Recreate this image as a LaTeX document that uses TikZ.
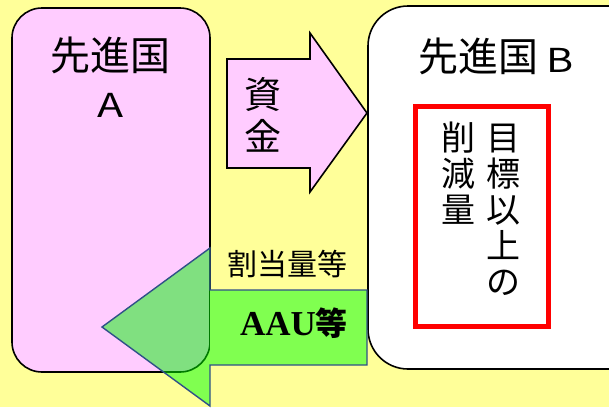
\documentclass[tikz,border=0pt]{standalone}
\usepackage{fontspec}
\setmainfont{Noto Sans CJK JP}
\newfontfamily\jpfont{Noto Sans CJK JP}
\newfontfamily\jpbold{Noto Sans CJK JP Bold}
\newfontfamily\serifb{Liberation Serif}
\definecolor{bgyellow}{HTML}{FFFF99}
\definecolor{boxpink}{HTML}{FFCCFF}
\definecolor{arrgreen}{HTML}{80FF50}
\definecolor{overgreen}{HTML}{80E080}
\definecolor{darkgr}{HTML}{007A00}
\definecolor{edgeblue}{HTML}{2F5088}
\tikzset{
  countrybox/.style={draw=black, line width=1.6pt, inner sep=0pt},
  lbl/.style={inner sep=0pt, font=\jpfont},
  title/.style={inner sep=0pt, font=\jpfont\fontsize{40}{42}\selectfont},
  latin/.style={inner sep=0pt, font=\jpfont\fontsize{33}{35}\selectfont},
  vtext/.style={inner sep=0pt, align=center, font=\jpfont\fontsize{34}{36}\selectfont},
}
\begin{document}
\begin{tikzpicture}[x=1pt,y=-1pt]
\fill[bgyellow] (0,0) rectangle (609,407);
\useasboundingbox (0,0) rectangle (609,407);
% country A
\node[countrybox, fill=boxpink, rounded corners=30pt, minimum width=198pt, minimum height=364pt] (A) at (111,190) {};
\node[title] (Atitle) at (110,55) {先進国};
\node[latin] (Aletter) at (111,105) {\scalebox{1.3}[1]{A}};
% country B
\begin{scope}
\clip (0,0) rectangle (609,407);
\node[countrybox, fill=white, rounded corners=40pt, minimum width=282pt, minimum height=363pt] (B) at (509,187.5) {};
\end{scope}
\node[title] (Btitle) at (478,56.5) {先進国};
\node[latin] (Bletter) at (560.5,60) {\scalebox{1.25}[1]{B}};
% red box
\node[draw=red, line width=5pt, fill=white, minimum width=133pt, minimum height=220pt, inner sep=0pt] (R) at (481.5,216) {};
\node[vtext] (col1) at (503,209.5) {目\\標\\以\\上\\の};
\node[vtext] (col2) at (458,173.5) {削\\減\\量};
% money arrow
\coordinate (m1) at (227,59);
\coordinate (tip1) at (367,113);
\draw[line width=1.6pt, fill=boxpink, line join=miter] (m1) -- (310,59) -- (310,33) -- (tip1) -- (310,192) -- (310,168) -- (227,168) -- cycle;
\node[vtext, font=\jpfont\fontsize{37}{42}\selectfont] (money) at (263,115) {資\\金};
% green arrow
\coordinate (g1) at (367,290);
\coordinate (tip2) at (102,327);
\fill[arrgreen] (g1) -- (210,290) -- (210,248) -- (tip2) -- (210,406) -- (210,365) -- (367,365) -- cycle;
\begin{scope}
\clip (210,248) -- (tip2) -- (210,406) -- cycle;
\fill[overgreen, rounded corners=30pt] (12,8) rectangle (210,372);
\draw[darkgr, line width=1.6pt, rounded corners=30pt] (12,8) rectangle (210,372);
\end{scope}
\draw[edgeblue, line width=1.4pt, line join=miter] (g1) -- (210,290) -- (210,248) -- (tip2) -- (210,406) -- (210,365) -- (367,365) -- cycle;
\node[lbl, font=\jpfont\fontsize{30}{32}\selectfont] (alloc) at (287,264) {割当量等};
\node[lbl] (aau) at (294,323) {\serifb\bfseries\fontsize{35}{36}\selectfont AAU\jpbold\fontsize{32}{33}\selectfont 等};
\end{tikzpicture}
\end{document}
